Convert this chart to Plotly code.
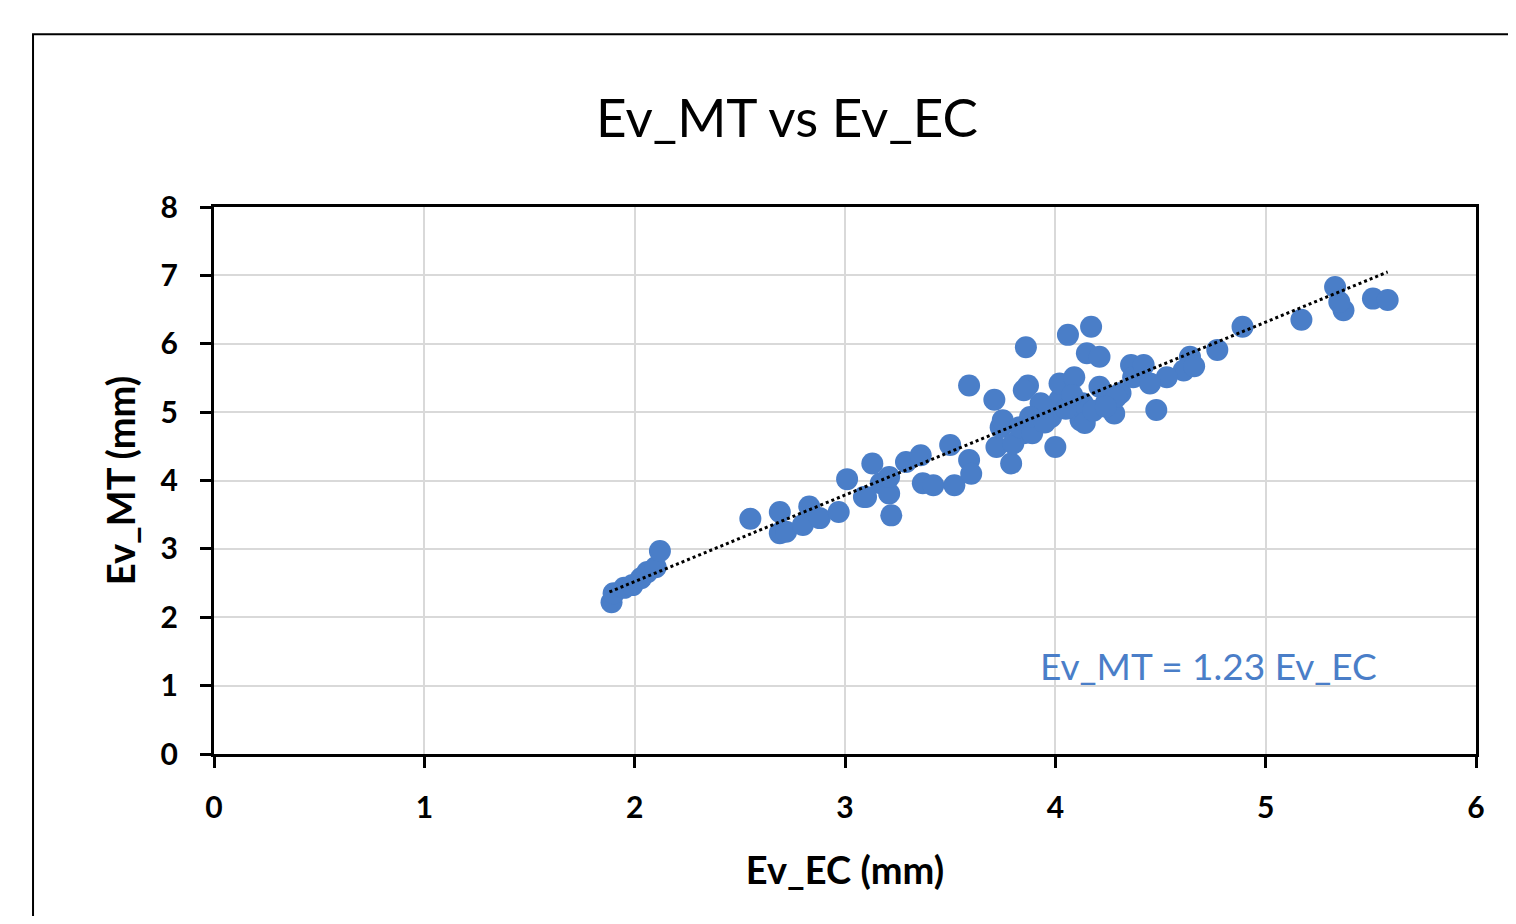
import plotly.graph_objects as go

ev_ec = [1.89, 1.90, 1.95, 1.99, 2.03, 2.06, 2.10, 2.12,
         2.55, 2.69, 2.69, 2.72, 2.83, 2.80, 2.88, 2.97, 3.01, 3.09, 3.17, 3.21, 3.22,
         3.13, 3.10, 3.21, 3.29, 3.36, 3.37, 3.42, 3.50, 3.52, 3.59, 3.60, 3.72, 3.79, 3.74, 3.85,
         3.86, 3.59, 3.71, 3.87, 3.85, 4.06, 4.17, 4.15, 4.21, 4.36,
         3.80, 4.00, 3.75, 3.83, 3.89, 3.98, 4.02, 4.02, 4.09, 4.12, 4.13, 4.24, 4.21, 4.31,
         4.37, 4.28, 3.93, 3.88, 4.14, 3.95, 4.05, 4.08, 4.18,
         4.42, 4.48, 4.64, 4.77, 4.89, 4.61, 4.53, 4.66, 4.45, 4.29, 4.24,
         5.17, 5.33, 5.37, 5.35, 5.51, 5.58]
ev_mt = [2.22, 2.35, 2.43, 2.47, 2.57, 2.66, 2.73, 2.97,
         3.44, 3.54, 3.23, 3.25, 3.62, 3.35, 3.45, 3.54, 4.02, 3.76, 3.96, 3.81, 3.49,
         4.25, 3.76, 4.05, 4.27, 4.37, 3.96, 3.93, 4.52, 3.93, 4.30, 4.10, 4.49, 4.25, 4.78, 4.69,
         5.95, 5.39, 5.18, 5.39, 5.32, 6.13, 6.25, 5.86, 5.81, 5.69,
         4.54, 4.49, 4.88, 4.78, 4.69, 4.93, 5.18, 5.42, 5.51, 4.88, 5.13, 5.13, 5.37, 5.28,
         5.51, 4.98, 5.13, 4.93, 4.84, 4.85, 5.05, 5.25, 5.02,
         5.69, 5.03, 5.81, 5.91, 6.25, 5.61, 5.51, 5.67, 5.42, 5.22, 5.08,
         6.35, 6.83, 6.49, 6.61, 6.66, 6.64]

trend_x = [1.88, 5.58]
trend_y = [2.37, 7.05]

x_ticks = [0, 1, 2, 3, 4, 5, 6]
y_ticks = [0, 1, 2, 3, 4, 5, 6, 7, 8]

title_text = "Ev_MT vs Ev_EC"
x_title = "Ev_EC (mm)"
y_title = "Ev_MT (mm)"
eq_text = "Ev_MT = 1.23 Ev_EC"

blue = "#4A7EC8"
font_family = "Lato, 'Open Sans', sans-serif"

W, H = 1500, 908  # page body has an 8px margin

fig = go.Figure()
fig.add_trace(go.Scatter(x=ev_ec, y=ev_mt, mode="markers",
                         marker=dict(size=22, color=blue, line=dict(width=0)),
                         showlegend=False))
fig.add_trace(go.Scatter(x=trend_x, y=trend_y, mode="lines",
                         line=dict(color="black", width=3, dash="dot"),
                         showlegend=False))

fig.add_annotation(x=4.73, y=1.29, text=eq_text, showarrow=False,
                   font=dict(size=37, color=blue, family=font_family))

# outer chart frame (extends beyond the window on right and bottom)
fig.add_shape(type="rect", xref="paper", yref="paper",
              x0=-0.1434, y0=-0.5, x1=1.2, y1=1.316,
              line=dict(color="black", width=2), fillcolor="rgba(0,0,0,0)", layer="below")

fig.update_layout(
    width=W, height=H,
    margin=dict(l=206, r=32, t=199, b=162),
    paper_bgcolor="white", plot_bgcolor="white",
    font=dict(family=font_family, color="black"),
    title=dict(text=title_text, x=779 / W, xanchor="center",
               y=1 - 110 / H, yanchor="middle",
               font=dict(size=53, color="black", family=font_family)),
)
fig.update_xaxes(range=[0, 6], tickvals=x_ticks, showgrid=True, gridcolor="#d9d9d9", gridwidth=2,
                 showline=True, linecolor="black", linewidth=3, mirror=True,
                 ticks="outside", ticklen=11, tickwidth=3, tickcolor="black",
                 ticklabelstandoff=14,
                 tickfont=dict(size=30, family=font_family, weight="bold"),
                 title=dict(text=x_title, standoff=35,
                            font=dict(size=38, family=font_family, weight="bold")),
                 zeroline=False)
fig.update_yaxes(range=[0, 8], tickvals=y_ticks, showgrid=True, gridcolor="#d9d9d9", gridwidth=2,
                 showline=True, linecolor="black", linewidth=3, mirror=True,
                 ticks="outside", ticklen=11, tickwidth=3, tickcolor="black",
                 ticklabelstandoff=16,
                 tickfont=dict(size=30, family=font_family, weight="bold"),
                 title=dict(text=y_title, standoff=14,
                            font=dict(size=38, family=font_family, weight="bold")),
                 zeroline=False)

fig.write_html("out.html")
